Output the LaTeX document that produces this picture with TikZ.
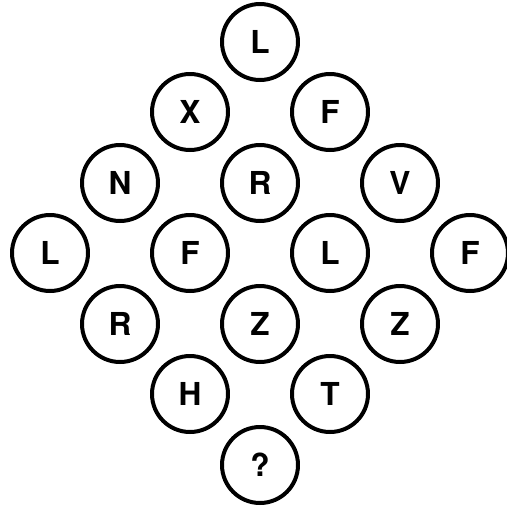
\documentclass[tikz,border=0pt]{standalone}
\usepackage{fontspec}
\setmainfont{TeX Gyre Heros}
\begin{document}
\begin{tikzpicture}[x=0.02cm, y=-0.02cm,
  every node/.style={font=\bfseries\fontsize{18}{18}\selectfont},
  ball/.style={draw, circle, line width=0.08cm, minimum size=1.52cm, inner sep=0pt}]
\useasboundingbox (0,0) rectangle (507,508);
% diamond of letters, row by row
\node[ball] (a1) at (260,42) {L};
\node[ball] (b1) at (190,112) {X};
\node[ball] (b2) at (330,112) {F};
\node[ball] (c1) at (120,183) {N};
\node[ball] (c2) at (260,183) {R};
\node[ball] (c3) at (400,183) {V};
\node[ball] (d1) at (50,253) {L};
\node[ball] (d2) at (190,253) {F};
\node[ball] (d3) at (330,253) {L};
\node[ball] (d4) at (470,253) {F};
\node[ball] (e1) at (120,324) {R};
\node[ball] (e2) at (260,324) {Z};
\node[ball] (e3) at (400,324) {Z};
\node[ball] (f1) at (190,394) {H};
\node[ball] (f2) at (330,394) {T};
\node[ball] (g1) at (260,465) {?};
\end{tikzpicture}
\end{document}
